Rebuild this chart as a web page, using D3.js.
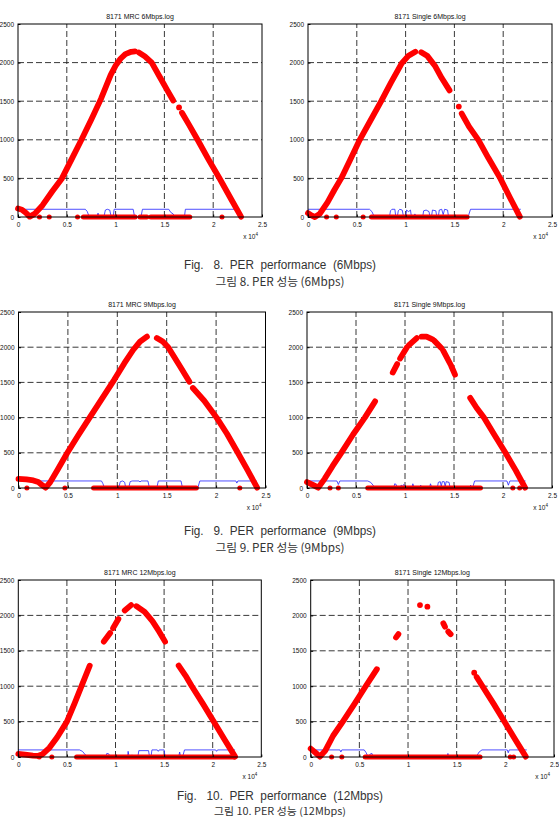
<!DOCTYPE html>
<html><head><meta charset="utf-8">
<script src="https://cdn.jsdelivr.net/npm/d3@7/dist/d3.min.js"></script>
<style>body{margin:0;background:#fff}svg{display:block}</style>
</head><body>
<script>
// ---------- shared axis data ----------
const xTicks = [0, 5000, 10000, 15000, 20000, 25000];
const xTickLabels = ["0", "0.5", "1", "1.5", "2", "2.5"];
const yTicks = [0, 500, 1000, 1500, 2000, 2500];
const titles = ["8171 MRC 6Mbps.log", "8171 Single 6Mbps.log", "8171 MRC 9Mbps.log",
                "8171 Single 9Mbps.log", "8171 MRC 12Mbps.log", "8171 Single 12Mbps.log"];
const captionsEn = ["Fig.   8.  PER  performance  (6Mbps)", "Fig.   9.  PER  performance  (9Mbps)",
                    "Fig.   10.  PER  performance  (12Mbps)"];
const captionsKo = ["그림 8. PER 성능 (6Mbps)", "그림 9. PER 성능 (9Mbps)", "그림 10. PER 성능 (12Mbps)"];

// ---------- red received-point curves (segments separated by gaps) ----------
const mrc6Curve = [
  [[0,110],[400,95],[800,55],[1200,5],[1700,40],[2500,150],[3500,330],[4500,500],[5500,750],[6500,1000],[7500,1260],[8500,1530],[9500,1840],[10000,1960],[10500,2050],[11000,2110],[11600,2140],[12000,2145]],
  [[12400,2130],[13000,2080],[13700,2000],[14500,1820],[15300,1640],[15900,1510]],
  [[16500,1420]],
  [[16800,1350],[17500,1200],[18400,1000],[19500,750],[20700,490],[21800,240],[22850,5]]
];
const single6Curve = [
  [[0,50],[350,20],[700,0],[1200,40],[2000,190],[2700,350],[3400,500],[4400,760],[5300,1000],[6400,1250],[7500,1500],[8500,1740],[9600,1990],[10300,2090],[11000,2140]],
  [[11600,2135],[12200,2090],[13000,1960],[13700,1800],[14500,1640]],
  [[15450,1430]],
  [[15750,1340],[16500,1170],[17450,1000],[18500,760],[19700,500],[20700,250],[21700,5]]
];
const mrc9Curve = [
  [[0,130],[800,122],[1500,108],[2000,85],[2400,40],[2750,5],[3200,80],[4000,270],[4900,490],[6000,740],[7200,1000],[8500,1280],[9700,1540],[10700,1770],[11600,1960],[12300,2080],[13000,2150]],
  [[14000,2130],[14600,2080],[15150,2000],[16250,1750],[17300,1510]],
  [[17650,1420],[18800,1240],[20050,1000],[21100,770],[22200,500],[23200,250],[24150,5]]
];
const single9Curve = [
  [[0,85],[600,45],[1150,5],[1800,130],[2600,310],[3500,500],[4700,760],[5900,1000],[6950,1230]],
  [[8750,1640],[9200,1760]],
  [[9500,1840],[10200,2000]],
  [[10400,2030],[11200,2130]],
  [[11700,2150],[12200,2150],[12800,2110]],
  [[13000,2090],[13700,1990]],
  [[13900,1950],[14700,1740],[15100,1610]],
  [[16650,1280],[17300,1140],[18050,1000],[19100,760],[20250,500],[21300,250],[22250,5]]
];
const mrc12Curve = [
  [[0,45],[700,35],[1500,20],[2000,15],[2500,40],[3200,130],[4000,280],[5000,500],[5800,760],[6500,1000],[7350,1290]],
  [[8800,1630],[9450,1750]],
  [[9750,1820],[10300,1950]],
  [[10950,2070],[11600,2145]],
  [[12150,2130],[13000,2050],[13800,1920],[14500,1770],[15100,1630]],
  [[16500,1290],[17200,1150],[17850,1000],[19000,750],[20100,500],[21200,250],[22300,5]]
];
const single12Curve = [
  [[0,118],[500,60],[950,5],[1500,90],[2300,300],[3300,500],[4500,750],[5650,1000],[6800,1240]],
  [[8770,1690],[9010,1735]],
  [[11230,2146]],
  [[11990,2123]],
  [[13630,1887],[13800,1840]],
  [[14140,1770],[14380,1735]],
  [[16800,1190]],
  [[17050,1130],[17650,1000],[18800,750],[19900,500],[21000,250],[22100,5]]
];

// ---------- red points lying on zero (ranges of x) ----------
const mrc6Zero = [[2200,2200],[3200,3200],[6100,6100],[6700,12000],[12500,13200],[13600,17600],[20900,20900]];
const single6Zero = [[1900,1900],[2900,2900],[5650,5650],[6500,16300]];
const mrc9Zero = [[850,850],[4700,4700],[7600,18000],[22400,22400]];
const single9Zero = [[2350,2350],[3200,3200],[6200,17700],[21000,21000],[21700,21700]];
const mrc12Zero = [[2150,2150],[3450,3450],[6000,22150]];
const single12Zero = [[2150,2150],[3200,3200],[5600,17400],[20500,20500],[20850,20850]];

// ---------- blue PER lines ----------
const mrc6Blue = [[0,100],[6900,100],[7100,70],[7300,0],[8050,0],[8200,50],[8350,0],[8800,0],[8950,90],[9150,100],[9400,90],[9550,0],[9750,0],[9850,100],[11800,100],[11950,0],[12600,0],[12750,100],[15450,100],[15650,60],[15900,40],[16050,0],[17050,0],[17150,100],[22200,100]];
const single6Blue = [[0,100],[6300,100],[6550,70],[6800,0],[8350,0],[8450,80],[8600,100],[8900,100],[9000,0],[9150,0],[9250,80],[9400,100],[9650,90],[9800,0],[10000,0],[10100,90],[10300,70],[10500,90],[10600,0],[10900,0],[10950,40],[11050,0],[11750,0],[11850,80],[12100,90],[12400,70],[12500,0],[12650,0],[12750,90],[13100,80],[13200,0],[13350,0],[13450,90],[13700,100],[13850,30],[14000,100],[14300,90],[14400,0],[16400,0],[16650,100],[21800,100]];
const mrc9Blue = [[0,100],[8400,100],[8550,60],[8700,0],[10150,0],[10300,90],[10550,100],[10750,80],[10850,0],[11150,0],[11300,90],[11500,100],[12200,100],[12300,85],[12400,100],[13100,100],[13250,0],[14000,0],[14150,100],[16450,100],[16600,0],[18150,0],[18350,100],[22000,100],[22100,70],[22200,100],[24100,100]];
const single9Blue = [[0,100],[3050,100],[3200,50],[3350,100],[6200,100],[6500,80],[6800,30],[7000,0],[8850,0],[8950,60],[9100,50],[9200,0],[9500,0],[9600,40],[9750,30],[9900,50],[10000,0],[10700,0],[10800,60],[10950,0],[11500,0],[11600,40],[11750,0],[12500,0],[12600,60],[12750,0],[13300,0],[13400,80],[13600,90],[13700,20],[13800,90],[14000,90],[14100,20],[14200,90],[14500,80],[14600,0],[16600,0],[16700,40],[16800,0],[16900,0],[17100,100],[20400,100],[20550,40],[20700,100],[22300,100]];
const mrc12Blue = [[0,100],[6300,100],[6600,80],[6900,30],[7200,0],[9000,0],[9100,50],[9300,45],[9450,0],[11250,0],[11300,80],[11400,0],[11650,0],[11700,30],[11750,0],[12300,0],[12400,90],[13400,90],[13500,0],[13650,0],[13750,100],[14300,100],[14400,80],[14500,100],[15000,100],[15100,0],[16500,0],[16600,70],[16700,0],[16900,0],[17100,100],[20300,100],[20400,80],[20500,100],[22300,100]];
const single12Blue = [[0,100],[3000,100],[3100,70],[3200,100],[5500,100],[5700,60],[5900,0],[6100,40],[6300,50],[6400,0],[14000,0],[14100,50],[14200,0],[17000,0],[17300,70],[17600,100],[20200,100],[20300,60],[20400,100],[22200,100]];

// ---------- layout ----------
const W = 559, H = 817;
const frames = [
  {l:18,  t:24,  w:244, h:193, curve:mrc6Curve,     zero:mrc6Zero,     blue:mrc6Blue},
  {l:308, t:24,  w:244, h:193, curve:single6Curve,  zero:single6Zero,  blue:single6Blue},
  {l:18.5,t:312, w:247, h:176, curve:mrc9Curve,     zero:mrc9Zero,     blue:mrc9Blue},
  {l:307, t:312, w:245, h:176, curve:single9Curve,  zero:single9Zero,  blue:single9Blue},
  {l:18.3,t:580, w:243, h:177, curve:mrc12Curve,    zero:mrc12Zero,    blue:mrc12Blue},
  {l:310.7,t:580,w:243.3,h:177,curve:single12Curve, zero:single12Zero, blue:single12Blue}
];
const captionY = [[269, 286], [535, 552], [800, 815]];
const captionEnW = [192, 192, 206];
const captionKoW = [129, 129, 132];
const captionKoSize = [11.5, 11.5, 10];

const svg = d3.select("body").append("svg").attr("width", W).attr("height", H)
  .style("font-family", "'Liberation Sans', Arial, sans-serif");

frames.forEach((f, i) => {
  const x = d3.scaleLinear().domain([0, 25000]).range([f.l, f.l + f.w]);
  const y = d3.scaleLinear().domain([0, 2500]).range([f.t + f.h, f.t]);
  const g = svg.append("g");

  // grid
  g.selectAll(".vg").data(xTicks.slice(1, -1)).enter().append("line")
    .attr("x1", d => x(d)).attr("x2", d => x(d)).attr("y1", y(0)).attr("y2", y(2500))
    .attr("stroke", "#222").attr("stroke-width", 0.9).attr("stroke-dasharray", "6,3");
  g.selectAll(".hg").data(yTicks.slice(1, -1)).enter().append("line")
    .attr("x1", x(0)).attr("x2", x(25000)).attr("y1", d => y(d)).attr("y2", d => y(d))
    .attr("stroke", "#222").attr("stroke-width", 0.9).attr("stroke-dasharray", "6,3");

  // blue line
  const line = d3.line().x(d => x(d[0])).y(d => y(d[1]));
  g.append("path").attr("d", line(f.blue)).attr("fill", "none")
    .attr("stroke", "#2222ff").attr("stroke-width", 0.8);

  // red zero points
  g.selectAll(".z").data(f.zero).enter().append("line")
    .attr("x1", d => x(d[0])).attr("x2", d => x(d[1])).attr("y1", y(0)).attr("y2", y(0))
    .attr("stroke", "#ff0000").attr("stroke-width", 5).attr("stroke-linecap", "round");

  // red curve
  f.curve.forEach(seg => {
    const pts = seg.length === 1 ? [seg[0], seg[0]] : seg;
    g.append("path").attr("d", line(pts)).attr("fill", "none")
      .attr("stroke", "#ff0000").attr("stroke-width", 5.8)
      .attr("stroke-linecap", "round").attr("stroke-linejoin", "round");
  });

  // box
  g.append("rect").attr("x", f.l).attr("y", f.t).attr("width", f.w).attr("height", f.h)
    .attr("fill", "none").attr("stroke", "#000").attr("stroke-width", 1);

  // axes
  const ax = g.append("g").attr("transform", `translate(0,${y(0)})`)
    .call(d3.axisBottom(x).tickValues(xTicks).tickFormat((d, k) => xTickLabels[k])
      .tickSizeInner(-2.5).tickSizeOuter(0).tickPadding(5));
  const ay = g.append("g").attr("transform", `translate(${x(0)},0)`)
    .call(d3.axisLeft(y).tickValues(yTicks).tickFormat(d3.format("d"))
      .tickSizeInner(-2.5).tickSizeOuter(0).tickPadding(4));
  [ax, ay].forEach(a => {
    a.select(".domain").remove();
    a.selectAll("text").attr("font-size", 6.5).attr("fill", "#111")
      .style("font-family", "'Liberation Sans', Arial, sans-serif");
    a.selectAll("line").attr("stroke", "#000");
  });

  // title
  g.append("text").attr("x", f.l + f.w / 2).attr("y", f.t - 5).attr("text-anchor", "middle")
    .attr("font-size", 7).attr("fill", "#111").text(titles[i]);

  // exponent label
  const ex = g.append("text").attr("x", f.l + f.w - 4).attr("y", y(0) + 22)
    .attr("text-anchor", "end").attr("font-size", 6.5).attr("fill", "#111");
  ex.append("tspan").text("x 10");
  ex.append("tspan").attr("font-size", 4.5).attr("dy", -3).text("4");
});

// captions
captionsEn.forEach((c, k) => {
  svg.append("text").attr("x", 280).attr("y", captionY[k][0]).attr("text-anchor", "middle")
    .attr("font-size", 12).attr("fill", "#333").style("white-space", "pre")
    .style("font-family", "'Liberation Sans Narrow', 'Liberation Sans', Arial, sans-serif")
    .attr("textLength", captionEnW[k]).attr("lengthAdjust", "spacingAndGlyphs")
    .text(c);
  svg.append("text").attr("x", 280).attr("y", captionY[k][1]).attr("text-anchor", "middle")
    .attr("font-size", captionKoSize[k]).attr("fill", "#333")
    .style("font-family", "'Noto Sans CJK KR', sans-serif")
    .attr("textLength", captionKoW[k]).attr("lengthAdjust", "spacingAndGlyphs")
    .text(captionsKo[k]);
});
</script>
</body></html>
